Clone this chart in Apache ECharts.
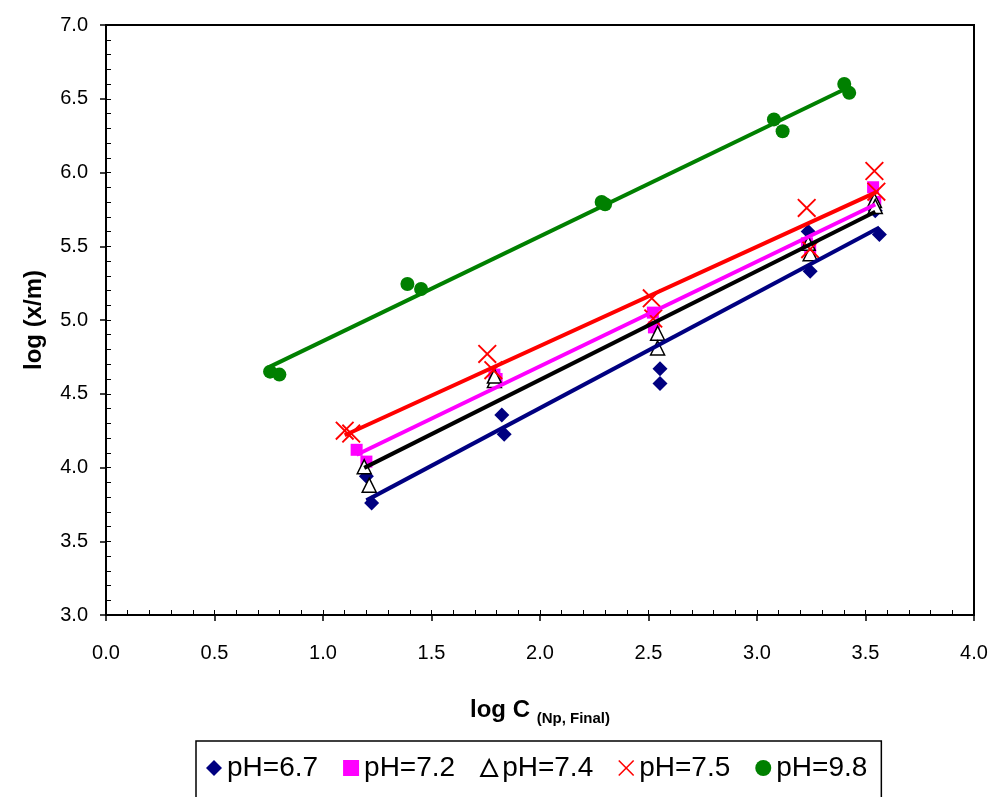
<!DOCTYPE html>
<html>
<head>
<meta charset="utf-8">
<script src="https://cdn.jsdelivr.net/npm/echarts@6/dist/echarts.min.js"></script>
<style>
  html, body { margin: 0; padding: 0; background: #fff; }
  #chart { width: 994px; height: 797px; }
</style>
</head>
<body>
<div id="chart"></div>
<script>
// log C vs log (x/m)
const SERIES_NAMES = ['pH=6.7', 'pH=7.2', 'pH=7.4', 'pH=7.5', 'pH=9.8'];
const ph67 = [[1.20, 3.94], [1.224, 3.76], [1.824, 4.356], [1.835, 4.225], [2.553, 4.67], [2.553, 4.57],
  [3.236, 5.60], [3.245, 5.33], [3.545, 5.74], [3.564, 5.58]];
const ph72 = [[1.155, 4.12], [1.20, 4.04], [1.79, 4.63], [1.80, 4.60], [2.52, 5.05], [2.525, 4.95],
  [3.23, 5.52], [3.245, 5.48], [3.535, 5.90], [3.545, 5.80]];
const ph74 = [[1.19, 4.005], [1.213, 3.88], [1.79, 4.59], [1.79, 4.62], [2.542, 4.91], [2.542, 4.81],
  [3.245, 5.45], [3.236, 5.52], [3.541, 5.81], [3.545, 5.77]];
const ph75 = [[1.10, 4.25], [1.13, 4.23], [1.757, 4.77], [1.785, 4.66], [2.515, 5.147], [2.522, 5.01],
  [3.229, 5.76], [3.245, 5.48], [3.541, 6.01], [3.55, 5.87]];
const ph98 = [[0.756, 4.65], [0.799, 4.63], [1.389, 5.244], [1.452, 5.21], [2.284, 5.80], [2.30, 5.785],
  [3.078, 6.36], [3.118, 6.28], [3.402, 6.60], [3.425, 6.54]];

const X_MIN = 0, X_MAX = 4, X_STEP = 0.5;
const Y_MIN = 3, Y_MAX = 7, Y_STEP = 0.5;

const FONT = '"Liberation Sans", Arial, sans-serif';
const CROSS = 'path://M0,0.7L0.7,0L10,9.3L9.3,10Z M9.3,0L10,0.7L0.7,10L0,9.3Z';

// least squares trendline over the x range of the points
function trend(pts) {
  const n = pts.length;
  let sx = 0, sy = 0, sxx = 0, sxy = 0;
  pts.forEach(function (p) { sx += p[0]; sy += p[1]; sxx += p[0] * p[0]; sxy += p[0] * p[1]; });
  const b = (n * sxy - sx * sy) / (n * sxx - sx * sx);
  const a = (sy - b * sx) / n;
  const xs = pts.map(function (p) { return p[0]; });
  const x0 = Math.min.apply(null, xs), x1 = Math.max.apply(null, xs);
  return [[x0, a + b * x0], [x1, a + b * x1]];
}

const styles = [
  { data: ph67, symbol: 'diamond', size: 15, color: '#000080', line: '#000080' },
  { data: ph72, symbol: 'rect', size: 12, color: '#FF00FF', line: '#FF00FF' },
  { data: ph74, symbol: 'triangle', size: 14, color: '#FFFFFF', border: '#000000', line: '#000000' },
  { data: ph75, symbol: CROSS, size: 19, color: '#FF0000', line: '#FF0000' },
  { data: ph98, symbol: 'circle', size: 14, color: '#008000', line: '#008000' },
];

const series = [];
styles.forEach(function (s, i) {
  series.push({
    name: SERIES_NAMES[i],
    type: 'scatter',
    data: s.data,
    symbol: s.symbol,
    symbolSize: s.size,
    z: 2,
    itemStyle: s.border
      ? { color: s.color, borderColor: s.border, borderWidth: 1.5, opacity: 1 }
      : { color: s.color, opacity: 1 },
  });
});
styles.forEach(function (s, i) {
  series.push({
    name: SERIES_NAMES[i] + ' trend',
    type: 'line',
    data: trend(s.data),
    symbol: 'none',
    silent: true,
    z: 3,
    lineStyle: { color: s.line, width: 4 },
  });
});

const chart = echarts.init(document.getElementById('chart'));
chart.setOption({
  animation: false,
  backgroundColor: '#fff',
  textStyle: { fontFamily: FONT },
  grid: { left: 106, right: 20, top: 25, bottom: 182, show: true, borderColor: '#000', borderWidth: 2 },
  legend: {
    data: SERIES_NAMES.map(function (n, i) {
      return { name: n, icon: styles[i].symbol };
    }),
    left: 196,
    top: 741,
    padding: [13, 14, 17, 10],
    borderColor: '#000',
    borderWidth: 1.5,
    itemGap: 25,
    itemWidth: 16,
    itemHeight: 16,
    textStyle: { fontSize: 28, color: '#000', fontFamily: FONT },
  },
  xAxis: [
    {
      type: 'value', min: X_MIN, max: X_MAX, interval: X_STEP,
      name: '{a|log C}  {b|(Np, Final)}',
      nameLocation: 'middle',
      nameGap: 80,
      nameTextStyle: {
        rich: {
          a: { fontSize: 24, fontWeight: 'bold', color: '#000', fontFamily: FONT },
          b: { fontSize: 15, fontWeight: 'bold', color: '#000', fontFamily: FONT, padding: [16, 0, 0, 0] },
        },
      },
      axisLine: { lineStyle: { color: '#000', width: 2 } },
      axisTick: { show: true, length: 6, lineStyle: { color: '#000', width: 1.5 } },
      axisLabel: { fontSize: 20, color: '#000', margin: 28, formatter: function (v) { return v.toFixed(1); } },
      splitLine: { show: false },
    },
    {
      type: 'value', min: X_MIN, max: X_MAX, interval: 0.1, position: 'bottom',
      axisLine: { show: false },
      axisTick: { show: true, inside: true, length: 5, lineStyle: { color: '#000', width: 1 } },
      axisLabel: { show: false },
      splitLine: { show: false },
    },
  ],
  yAxis: [
    {
      type: 'value', min: Y_MIN, max: Y_MAX, interval: Y_STEP,
      name: 'log (x/m)',
      nameLocation: 'middle',
      nameGap: 60,
      nameTextStyle: { fontSize: 24, fontWeight: 'bold', color: '#000', fontFamily: FONT },
      axisLine: { lineStyle: { color: '#000', width: 2 } },
      axisTick: { show: true, length: 6, lineStyle: { color: '#000', width: 1.5 } },
      axisLabel: { fontSize: 20, color: '#000', margin: 18, formatter: function (v) { return v.toFixed(1); } },
      splitLine: { show: false },
    },
    {
      type: 'value', min: Y_MIN, max: Y_MAX, interval: 0.1, position: 'left',
      axisLine: { show: false },
      axisTick: { show: true, inside: true, length: 5, lineStyle: { color: '#000', width: 1 } },
      axisLabel: { show: false },
      splitLine: { show: false },
    },
  ],
  series: series,
});
</script>
</body>
</html>
